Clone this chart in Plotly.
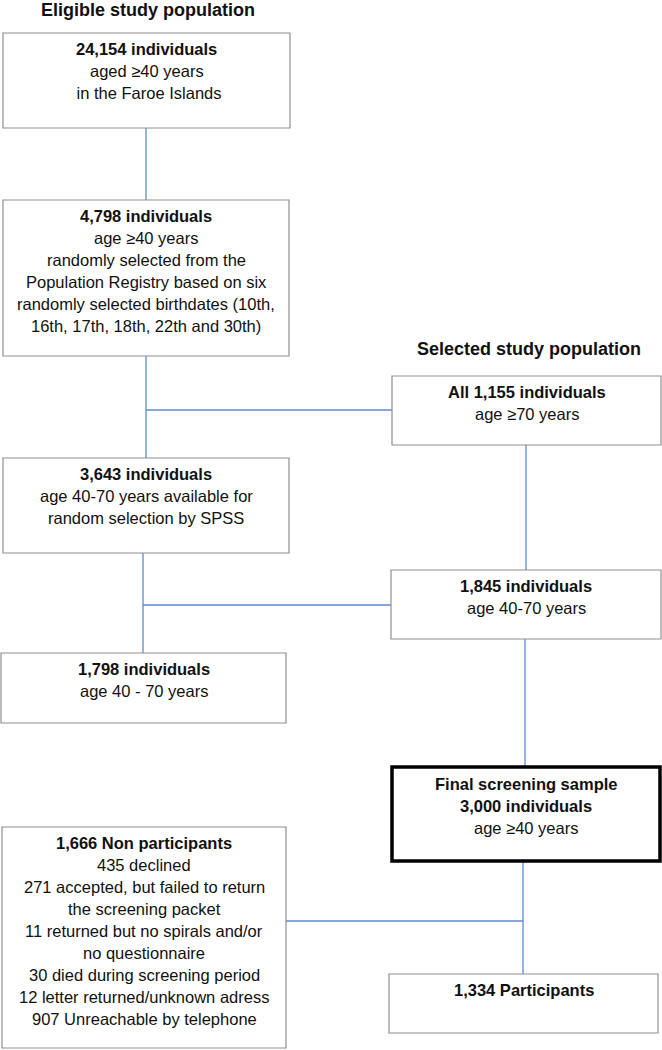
import plotly.graph_objects as go

# ---- content ----
headings = ["Eligible study population", "Selected study population"]

box_titles = [
    ["24,154 individuals"],
    ["4,798 individuals"],
    ["All 1,155 individuals"],
    ["3,643 individuals"],
    ["1,845 individuals"],
    ["1,798 individuals"],
    ["Final screening sample", "3,000 individuals"],
    ["1,334 Participants"],
    ["1,666 Non participants"],
]
box_lines = [
    ["aged ≥40 years", " in the Faroe Islands"],
    ["age ≥40 years", "randomly selected from the", "Population Registry based on six",
     "randomly selected birthdates (10th,", "16th, 17th, 18th, 22th and 30th)"],
    ["age ≥70 years"],
    ["age 40-70 years available for", "random selection by SPSS"],
    ["age 40-70 years"],
    ["age 40 - 70 years"],
    ["age ≥40 years"],
    [],
    ["435 declined", "271 accepted, but failed to return", "the screening packet",
     "11 returned but no spirals and/or", "no questionnaire", "30 died during screening period",
     "12 letter returned/unknown adress", "907 Unreachable by telephone"],
]
emphasised = [False, False, False, False, False, False, True, False, False]

# ---- layout geometry (pixels, y downward) ----
box_geom = [
    (3, 290, 33, 128),
    (3, 289, 200, 356),
    (392, 661, 376, 445),
    (3, 289, 458, 553),
    (391, 661, 570, 639),
    (1, 286, 653, 723),
    (392, 660, 767, 861),
    (389, 658, 974, 1033),
    (2, 286, 827, 1048),
]
heading_pos = [(148, 10), (529, 349)]
connectors = [
    ((146, 128), (146, 200)),
    ((146, 356), (146, 458)),
    ((146, 410), (392, 410)),
    ((526, 445), (526, 570)),
    ((143, 553), (143, 653)),
    ((143, 605), (391, 605)),
    ((525, 639), (525, 767)),
    ((523, 861), (523, 974)),
    ((286, 921), (523, 921)),
]

FONT = "Liberation Sans, Arial, sans-serif"
FS = 16.5
LH = 22
LINE_COL = "#5b8bd2"
BOX_COL = "#8f8f8f"

fig = go.Figure()
shapes = []
annotations = []

for (p0, p1) in connectors:
    shapes.append(dict(type="line", xref="x", yref="y", x0=p0[0], y0=p0[1], x1=p1[0], y1=p1[1],
                       line=dict(color=LINE_COL, width=1.3), layer="below"))

for i, (x0, x1, y0, y1) in enumerate(box_geom):
    thick = emphasised[i]
    shapes.append(dict(type="rect", xref="x", yref="y", x0=x0, x1=x1, y0=y0, y1=y1,
                       line=dict(color="#000000" if thick else BOX_COL, width=3.5 if thick else 1.2),
                       fillcolor="rgba(0,0,0,0)"))
    cx = (x0 + x1) / 2
    lines = [("<b>%s</b>" % t) for t in box_titles[i]] + list(box_lines[i])
    start = y0 + (17 if thick else 15.5)
    for k, ln in enumerate(lines):
        annotations.append(dict(x=cx, y=start + k * LH, xref="x", yref="y", text=ln,
                                showarrow=False, xanchor="center", yanchor="middle",
                                font=dict(family=FONT, size=FS, color="#111111")))

for txt, (hx, hy) in zip(headings, heading_pos):
    annotations.append(dict(x=hx, y=hy, xref="x", yref="y", text="<b>%s</b>" % txt,
                            showarrow=False, xanchor="center", yanchor="middle",
                            font=dict(family=FONT, size=18, color="#111111")))

fig.update_layout(
    width=662, height=1050,
    margin=dict(l=0, r=0, t=0, b=0),
    paper_bgcolor="white", plot_bgcolor="white",
    xaxis=dict(range=[0, 662], visible=False, fixedrange=True),
    yaxis=dict(range=[1050, 0], visible=False, fixedrange=True),
    shapes=shapes, annotations=annotations, showlegend=False,
)
fig.write_html("out.html", config={"displayModeBar": False},
               post_script="document.body.style.margin='0';document.body.style.overflow='hidden';")
